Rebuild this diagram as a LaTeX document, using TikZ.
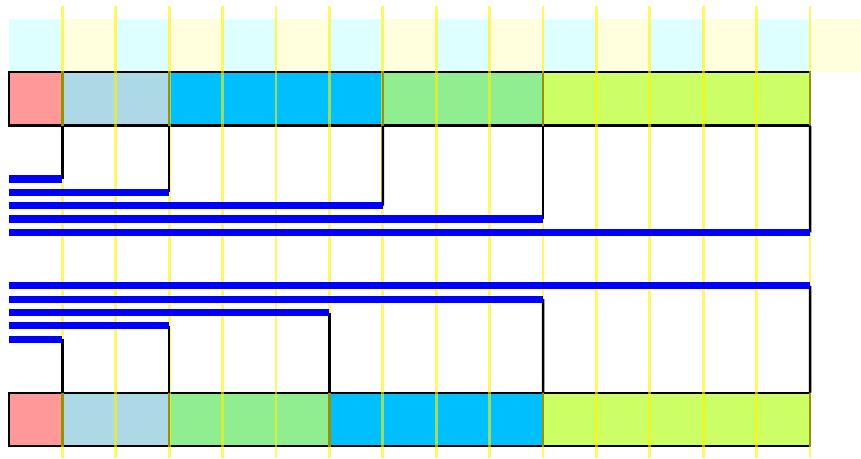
\documentclass[tikz,border=0pt]{standalone}
\definecolor{cRed}{HTML}{FF9999}
\definecolor{cLBlue}{HTML}{ADD8E6}
\definecolor{cSky}{HTML}{00BFFF}
\definecolor{cLGreen}{HTML}{90EE90}
\definecolor{cLime}{HTML}{CCFF66}
\definecolor{cCyan}{HTML}{DDFFFF}
\definecolor{cYel}{HTML}{FFFFDD}
\begin{document}
\begin{tikzpicture}[x=53.4pt,y=53.4pt,
  seg/.style={draw=black,line width=2.2pt,minimum height=53.4pt,inner sep=0pt,outer sep=0pt,anchor=south west},
  gridline/.style={draw=yellow,opacity=0.6,line width=2.8pt},
  link/.style={draw=black,line width=2.5pt},
  bus/.style={draw=blue,line width=7.2pt,line cap=butt}]
\useasboundingbox (-9pt,-12pt) rectangle (852pt,446pt);
% background strip
\begin{scope}
\clip (-9pt,-12pt) rectangle (852pt,446pt);
\foreach \i in {0,2,...,14}{\fill[cCyan] (\i,7) rectangle (\i+1,8);}
\foreach \i in {1,3,...,15}{\fill[cYel] (\i,7) rectangle (\i+1,8);}
\end{scope}
% top bar
\node[seg,fill=cRed,minimum width=53.4pt] (t1) at (0,6) {};
\node[seg,fill=cLBlue,minimum width=106.8pt] (t2) at (1,6) {};
\node[seg,fill=cSky,minimum width=213.6pt] (t3) at (3,6) {};
\node[seg,fill=cLGreen,minimum width=160.2pt] (t4) at (7,6) {};
\node[seg,fill=cLime,minimum width=267pt] (t5) at (10,6) {};
% bottom bar
\node[seg,fill=cRed,minimum width=53.4pt] (b1) at (0,0) {};
\node[seg,fill=cLBlue,minimum width=106.8pt] (b2) at (1,0) {};
\node[seg,fill=cLGreen,minimum width=160.2pt] (b3) at (3,0) {};
\node[seg,fill=cSky,minimum width=213.6pt] (b4) at (6,0) {};
\node[seg,fill=cLime,minimum width=267pt] (b5) at (10,0) {};
% yellow grid lines
\foreach \k in {1,...,15}{\draw[gridline] (\k,-12pt) -- (\k,8.24);}
% bus coordinates (top)
\coordinate (tL1) at (0,5);    \coordinate (tR1) at (1,5);
\coordinate (tL2) at (0,4.75); \coordinate (tR2) at (3,4.75);
\coordinate (tL3) at (0,4.5);  \coordinate (tR3) at (7,4.5);
\coordinate (tL4) at (0,4.25); \coordinate (tR4) at (10,4.25);
\coordinate (tL5) at (0,4);    \coordinate (tR5) at (15,4);
% bus coordinates (bottom)
\coordinate (bL5) at (0,3);    \coordinate (bR5) at (15,3);
\coordinate (bL4) at (0,2.75); \coordinate (bR4) at (10,2.75);
\coordinate (bL3) at (0,2.5);  \coordinate (bR3) at (6,2.5);
\coordinate (bL2) at (0,2.25); \coordinate (bR2) at (3,2.25);
\coordinate (bL1) at (0,2);    \coordinate (bR1) at (1,2);
% connectors
\draw[link] (t1.south east) -- (tR1);
\draw[link] (t2.south east) -- (tR2);
\draw[link] (t3.south east) -- (tR3);
\draw[link] (t4.south east) -- (tR4);
\draw[link] (t5.south east) -- (tR5);
\draw[link] (b1.north east) -- (bR1);
\draw[link] (b2.north east) -- (bR2);
\draw[link] (b3.north east) -- (bR3);
\draw[link] (b4.north east) -- (bR4);
\draw[link] (b5.north east) -- (bR5);
% buses
\foreach \n in {1,...,5}{
  \draw[bus] (tL\n) -- (tR\n);
  \draw[bus] (bL\n) -- (bR\n);
}
\end{tikzpicture}
\end{document}
